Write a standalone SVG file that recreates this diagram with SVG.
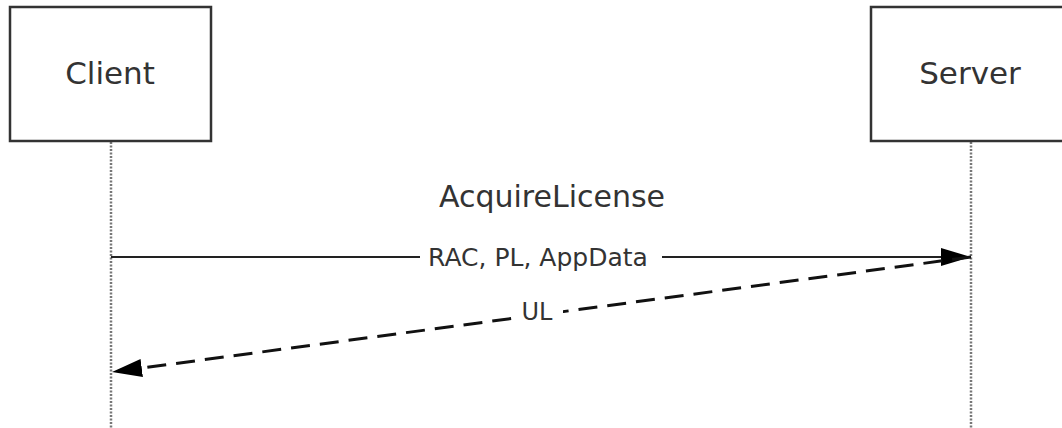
<svg xmlns="http://www.w3.org/2000/svg" width="1062" height="428" viewBox="0 0 1062 428">
<style>
.box{fill:#fff;stroke:#333;stroke-width:2.5}
.life{stroke:#777;stroke-width:2.5;stroke-dasharray:2 1.5;fill:none}
.msg{stroke:#222;stroke-width:2;fill:none}
.ret{stroke:#111;stroke-width:3;fill:none;stroke-dasharray:19 10}
.t{font-family:"DejaVu Sans",Verdana,sans-serif;fill:#333;text-anchor:middle}
</style>
<defs>
<marker id="ah" markerWidth="30" markerHeight="18" refX="30" refY="9" orient="auto" markerUnits="userSpaceOnUse">
<path d="M0,0 L30,9 L0,18 Z" fill="#000"/>
</marker>
</defs>
<rect width="1062" height="428" fill="#fff"/>
<g id="lifelines">
<line class="life" x1="111" y1="142" x2="111" y2="428"/>
<line class="life" x1="971" y1="142" x2="971" y2="428"/>
</g>
<g id="client">
<rect class="box" x="10" y="7" width="201" height="134"/>
<text class="t" x="110" y="84" font-size="31">Client</text>
</g>
<g id="server">
<rect class="box" x="871" y="7" width="201" height="134"/>
<text class="t" x="970" y="84" font-size="31">Server</text>
</g>
<g id="connectors">
<text class="t" x="552" y="207" font-size="30">AcquireLicense</text>
<line class="msg" x1="111" y1="257" x2="971" y2="257" marker-end="url(#ah)"/>
<rect x="420" y="242" width="242" height="30" fill="#fff"/>
<text class="t" x="538" y="266" font-size="25">RAC, PL, AppData</text>
<line class="ret" x1="971" y1="257" x2="112" y2="372" marker-end="url(#ah)"/>
<rect x="515" y="298" width="48" height="28" fill="#fff"/>
<text class="t" x="537" y="320" font-size="24">UL</text>
</g>
</svg>
